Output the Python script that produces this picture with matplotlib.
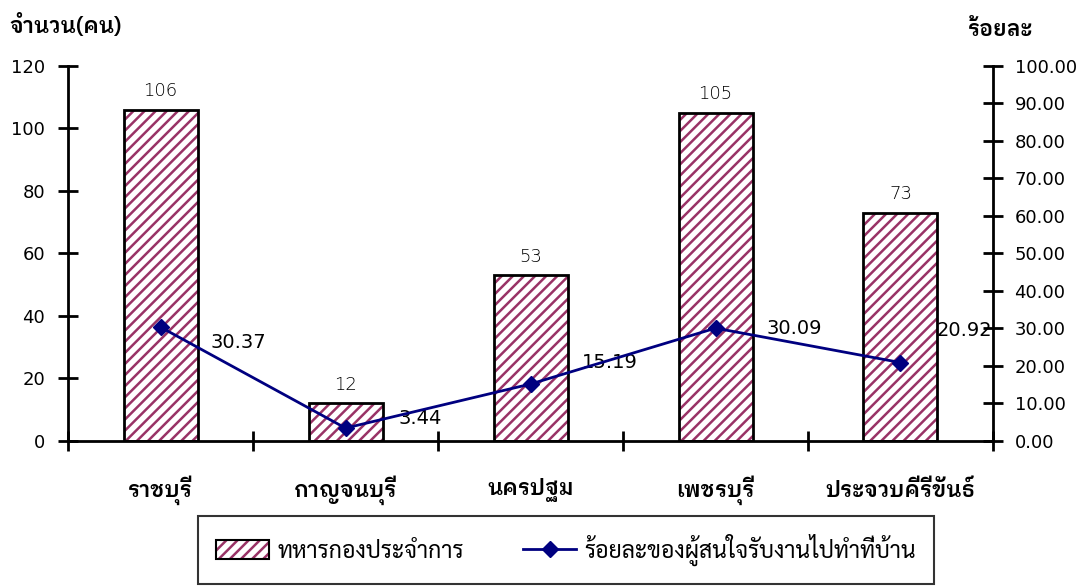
import matplotlib
matplotlib.use("Agg")
import matplotlib.pyplot as plt
import numpy as np
from matplotlib.patches import Patch
from matplotlib.lines import Line2D
from matplotlib.legend_handler import HandlerTuple

# ---------------- data ----------------
provinces = ["ราชบุรี", "กาญจนบุรี", "นครปฐม", "เพชรบุรี", "ประจวบคีรีขันธ์"]
soldiers = [106, 12, 53, 105, 73]
percent = [30.37, 3.44, 15.19, 30.09, 20.92]
left_ticks = [0, 20, 40, 60, 80, 100, 120]
right_ticks = [0, 10, 20, 30, 40, 50, 60, 70, 80, 90, 100]
bar_label = "ทหารกองประจำการ"
line_label = "ร้อยละของผู้สนใจรับงานไปทำที่บ้าน"
left_title = "จำนวน(คน)"
right_title = "ร้อยละ"

# label offsets in points (layout only)
pct_offsets = [(36, -11), (38, 7), (37, 15.5), (37, 0), (26, 23)]

THAI = ["IBM Plex Sans Thai Looped", "Noto Sans Thai Looped", "DejaVu Sans"]
NUM = ["DejaVu Sans"]
LEG = ["Sarabun", "DejaVu Sans"]

plt.rcParams["hatch.linewidth"] = 1.8

fig = plt.figure(figsize=(10.85, 5.88), dpi=100)
ax = fig.add_axes([0.0627, 0.25, 0.8525, 0.6378])
ax2 = ax.twinx()

x = np.arange(len(provinces))
plum = "#993366"
# hatch layer then black outline
ax.bar(x, soldiers, width=0.4, color="white", hatch="///", edgecolor=plum, linewidth=0, zorder=2)
ax.bar(x, soldiers, width=0.4, fill=False, edgecolor="black", linewidth=2, zorder=3)

for xi, v in zip(x, soldiers):
    ax.annotate(str(v), (xi, v), xytext=(0, 7), textcoords="offset points",
                ha="center", va="bottom", fontsize=13, color="black",
                family=NUM, fontweight="light")

ax.set_xlim(-0.5, len(provinces) - 0.5)
ax.set_ylim(0, 120)
ax2.set_ylim(0, 100)

ax2.plot(x, percent, color="#000080", linewidth=2, marker="D", markersize=8.5, zorder=5)
for xi, v, off in zip(x, percent, pct_offsets):
    ax2.annotate(f"{v:.2f}", (xi, v), xytext=off, textcoords="offset points",
                 ha="left", va="center", fontsize=14, color="black", family=NUM)

# spines
for a in (ax, ax2):
    a.spines["top"].set_visible(False)
ax.spines["right"].set_visible(False)
ax2.spines["left"].set_visible(False)
for s in ("left", "bottom"):
    ax.spines[s].set_linewidth(2)
ax2.spines["right"].set_linewidth(2)
ax2.spines["bottom"].set_visible(False)

ax.set_yticks(left_ticks)
ax.set_yticklabels([str(t) for t in left_ticks], family=NUM, fontsize=13)
ax2.set_yticks(right_ticks)
ax2.set_yticklabels([f"{t:.2f}" for t in right_ticks], family=NUM, fontsize=13)
ax.tick_params(axis="y", direction="inout", length=15, width=2, pad=9)
ax2.tick_params(axis="y", direction="inout", length=15, width=2, pad=8)

# category boundary ticks
ax.set_xticks(np.arange(-0.5, len(provinces), 1.0))
ax.set_xticklabels([])
ax.tick_params(axis="x", direction="inout", length=14, width=2)
for xi, name in zip(x, provinces):
    ax.text(xi, -0.13, name, transform=ax.get_xaxis_transform(), ha="center", va="center",
            fontsize=15.5, fontweight="semibold", family=THAI)

fig.text(0.009, 0.958, left_title, fontsize=15.5, fontweight="semibold", family=THAI, ha="left", va="center")
fig.text(0.892, 0.95, right_title, fontsize=15.5, fontweight="semibold", family=THAI, ha="left", va="center")

h_hatch = Patch(facecolor="white", edgecolor=plum, hatch="///", linewidth=0)
h_edge = Patch(facecolor="none", edgecolor="black", linewidth=1.5)
h_line = Line2D([], [], color="#000080", linewidth=2, marker="D", markersize=8.5)
leg = fig.legend([(h_hatch, h_edge), h_line], [bar_label, line_label], ncol=2,
                 handler_map={tuple: HandlerTuple(ndivide=1, pad=0)},
                 loc="center", bbox_to_anchor=(0.5217, 0.0646), frameon=True,
                 prop={"family": LEG, "size": 16.5}, columnspacing=2.6,
                 handlelength=2.3, handleheight=0.9, handletextpad=0.35,
                 borderpad=0.8, fancybox=False, borderaxespad=0)
leg.get_frame().set_edgecolor("black")
leg.get_frame().set_linewidth(1.5)

fig.savefig("out.png", dpi=100)
